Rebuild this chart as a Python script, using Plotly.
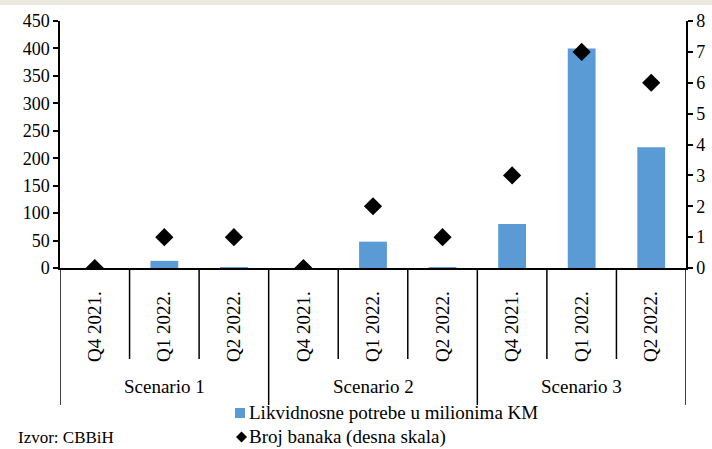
import plotly.graph_objects as go

# Data
scenarios = ["Scenario 1", "Scenario 2", "Scenario 3"]
quarters = ["Q4 2021.", "Q1 2022.", "Q2 2022."]
liquidity_needs = [0, 13, 1, 0, 48, 1, 80, 400, 220]   # mil. KM
bank_count = [0, 1, 1, 0, 2, 1, 3, 7, 6]               # right scale
bar_name = "Likvidnosne potrebe u milionima KM"
dot_name = "Broj banaka (desna skala)"

W, H = 712, 449
ML, MR, MT, MB = 60, 26, 21, 181
PLOT_H = H - MT - MB
PLOT_W = W - ML - MR
FONT = "'Times New Roman', Tinos, 'Liberation Serif', 'Noto Serif', 'DejaVu Serif', serif"
BAR_COLOR = "#5B9BD5"

x = list(range(len(liquidity_needs)))
ticktext = [q for _ in scenarios for q in quarters]


def py(px_from_top):
    """Convert a pixel row of the page to paper y."""
    return (H - MB - px_from_top) / PLOT_H


def px(px_from_left):
    """Convert a pixel column of the page to paper x."""
    return (px_from_left - ML) / PLOT_W


fig = go.Figure()
fig.add_trace(go.Bar(
    x=x, y=liquidity_needs, width=0.4,
    marker=dict(color=BAR_COLOR, line=dict(width=0)),
    name=bar_name, yaxis="y",
))
fig.add_trace(go.Scatter(
    x=x, y=bank_count, mode="markers",
    marker=dict(symbol="diamond", size=14, color="black"),
    name=dot_name, yaxis="y2",
))

shapes = []
# thin beige band along the top edge
shapes.append(dict(type="rect", xref="paper", yref="paper",
                   x0=px(0), x1=px(W), y0=py(5), y1=py(0),
                   fillcolor="#ECE9DF", line=dict(width=0), layer="below"))
# category dividers below the axis
n_q = len(quarters)
for g in range(len(scenarios)):
    for k in range(1, n_q):
        xv = g * n_q + k - 0.5
        shapes.append(dict(type="line", xref="x", yref="paper",
                           x0=xv, x1=xv, y0=0, y1=py(359),
                           line=dict(color="black", width=1.5)))
for g in range(len(scenarios) + 1):
    xv = g * n_q - 0.5
    shapes.append(dict(type="line", xref="x", yref="paper",
                       x0=xv, x1=xv, y0=0, y1=py(405),
                       line=dict(color="black", width=1.5)))

# compact legend below the category labels
shapes.append(dict(type="rect", xref="paper", yref="paper",
                   x0=px(235), x1=px(245), y0=py(418), y1=py(408),
                   fillcolor=BAR_COLOR, line=dict(width=0)))
cx, cy, r = 241.5, 437, 5.5
shapes.append(dict(type="path", xref="paper", yref="paper",
                   path=(f"M {px(cx - r)},{py(cy)} L {px(cx)},{py(cy - r)} "
                         f"L {px(cx + r)},{py(cy)} L {px(cx)},{py(cy + r)} Z"),
                   fillcolor="black", line=dict(width=0)))

annotations = []
for g, s in enumerate(scenarios):
    annotations.append(dict(x=g * n_q + 1, y=py(386), xref="x", yref="paper",
                            text=s, showarrow=False,
                            font=dict(family=FONT, size=19, color="black"),
                            xanchor="center", yanchor="middle"))
for label, yc in [(bar_name, 413), (dot_name, 437)]:
    annotations.append(dict(x=px(247), y=py(yc), xref="paper", yref="paper",
                            text=label, showarrow=False, xanchor="left",
                            yanchor="middle",
                            font=dict(family=FONT, size=19, color="black")))
annotations.append(dict(x=px(16), y=py(449),
                        xref="paper", yref="paper", text="Izvor: CBBiH",
                        showarrow=False, xanchor="left", yanchor="bottom",
                        font=dict(family=FONT, size=17, color="black")))

fig.update_layout(
    width=W, height=H,
    margin=dict(l=ML, r=MR, t=MT, b=MB, autoexpand=False),
    paper_bgcolor="white", plot_bgcolor="white",
    font=dict(family=FONT, size=18, color="black"),
    showlegend=False,
    xaxis=dict(range=[-0.5, 8.5], tickmode="array", tickvals=x,
               ticktext=ticktext, tickangle=-90, ticks="",
               showline=True, linecolor="black", linewidth=1.5,
               showgrid=False, zeroline=False, ticklabelstandoff=14,
               automargin=False,
               tickfont=dict(family=FONT, size=19)),
    yaxis=dict(range=[0, 450], tickmode="linear", tick0=0, dtick=50,
               ticks="outside", ticklen=5, tickwidth=1.5, tickcolor="black",
               showline=True, linecolor="black", linewidth=1.5,
               showgrid=False, zeroline=False, automargin=False,
               tickfont=dict(family=FONT, size=18)),
    yaxis2=dict(range=[0, 8], tickmode="linear", tick0=0, dtick=1,
                overlaying="y", side="right",
                ticks="outside", ticklen=5, tickwidth=1.5, tickcolor="black",
                showline=True, linecolor="black", linewidth=1.5,
                showgrid=False, zeroline=False, automargin=False,
                tickfont=dict(family=FONT, size=18)),
    shapes=shapes, annotations=annotations,
)

fig.write_html("out.html")
